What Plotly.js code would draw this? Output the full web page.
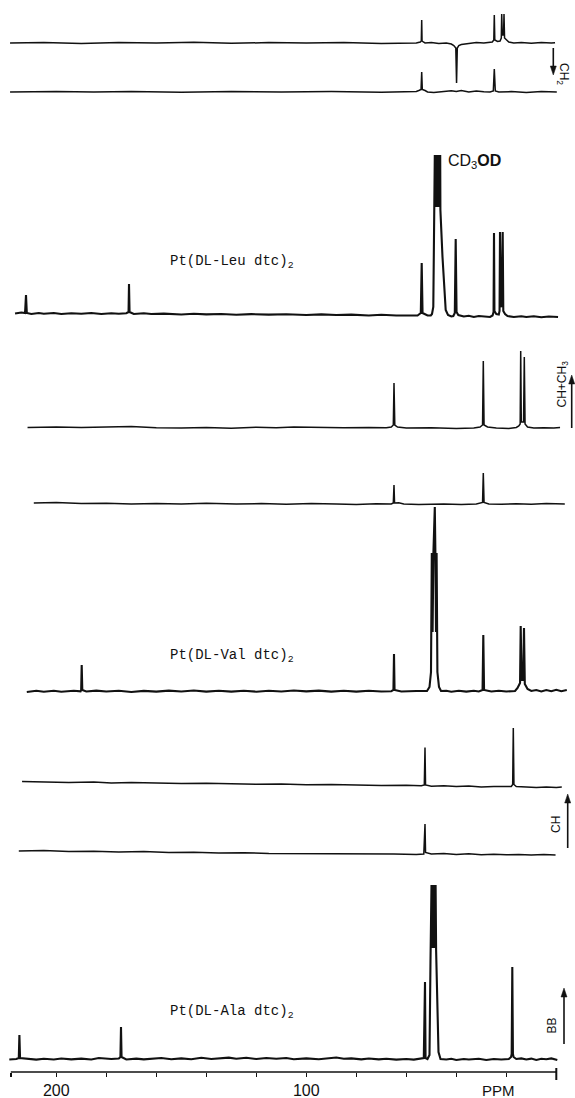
<!DOCTYPE html>
<html><head><meta charset="utf-8">
<script src="https://cdn.plot.ly/plotly-3.0.1.min.js"></script>
<style>html,body{margin:0;padding:0;background:#fff}#chart{width:575px;height:1098px}</style>
</head><body><div id="chart"></div>
<script>
// ---- DATA: spectrum traces as [ppm, intensity] vertices ----
// Pt(DL-Leu dtc)2, DEPT CH2 (top)
const leuDeptA = [[218.5,0],[205,0.5],[190,-0.5],[175,0.5],[160,0],[145,0.8],[130,-0.3],[115,0.4],[100,0],[85,0.6],[70,-0.4],[60,0.3],[56,0],[54.4,1],[54.0,2],[53.84,23],[53.7,2],[53.2,1],[52.5,0],[50,0.5],[47,-0.5],[44,0],[42,-1],[41,-2.5],[40.2,-5],[39.9,-40],[39.6,-5],[39,-2.5],[38,-1.5],[35,-0.5],[32,0.5],[29,0],[27,0.5],[25.6,1],[25.0,3],[24.8,28],[24.6,3],[23.5,1.5],[22.5,2],[22.0,5],[21.84,29],[21.6,8],[21.1,8],[20.92,29],[20.7,5],[20.0,3],[19,1],[17,0],[14,0.4],[10,-0.3],[6,0.4],[2,0],[0.5,0.3]];
// Pt(DL-Leu dtc)2, DEPT second trace
const leuDeptB = [[218.5,0],[200,0.5],[185,0],[170,0.6],[150,-0.3],[130,0.5],[110,0],[90,0.4],[70,-0.3],[60,0],[56,0.5],[55,1.5],[54.1,2.5],[53.84,20],[53.6,2.5],[52.5,1.5],[51.5,0],[49,-0.5],[45,0.5],[42,1.2],[40,0.5],[38,1.5],[35,0],[32,1],[29,0.3],[26.5,0],[25.2,1],[24.8,23],[24.4,1],[23,0],[18,0.4],[12,-0.4],[6,0.4],[-0.2,0]];
// Pt(DL-Leu dtc)2, broadband
const leuBB = [[216.5,3.5],[214,4.5],[212.5,4],[212.12,22],[211.8,4],[210,3],[207,4],[205,3.2],[201,4],[198,3],[194,3.8],[190,3.2],[186,4],[182,3],[178,3.8],[175,3.2],[172,3.8],[171.1,5],[170.92,33],[170.7,5],[169,3],[165,3.8],[162,3],[157,3.4],[150,2.5],[145,3.2],[140,2.6],[134,3],[128,2.2],[122,2.9],[115,2.4],[108,2.8],[100,2],[94,2.6],[88,2],[82,2.4],[75,1.5],[70,2.2],[64,1.5],[58,1.8],[55.5,1.5],[54.2,4],[53.84,54],[53.5,4],[51.5,1.5],[50.2,1.5],[49.72,3],[49.2,10],[48.75,105],[48.6,162],[48.32,110],[48.04,162],[47.76,110],[47.48,162],[47.2,110],[46.92,162],[46.64,110],[46.44,162],[46.36,107],[45.52,60],[44.24,7],[43.32,2],[42,0.5],[41.2,1],[40.6,4],[40.24,78],[39.9,5],[39.2,2],[37,0.5],[35,1.3],[33,0],[31,1],[29,0.3],[26.5,0],[25.5,1.5],[25.1,5],[24.92,84],[24.75,6],[24,3],[23,2.5],[22.7,6],[22.52,85],[22.2,12],[21.8,10],[21.44,85],[21.2,6],[20.5,3],[19.5,1],[17,0],[14,0.8],[12,0],[9,0.7],[6,-0.3],[3,0.5],[-0.7,0]];
// Pt(DL-Val dtc)2, DEPT CH+CH3
const valDeptA = [[211.5,0.5],[200,1],[190,0.5],[180,1.2],[170,1.5],[160,0.3],[150,0],[140,0.5],[130,-0.2],[120,0.8],[112,0.3],[105,1],[95,0.5],[85,0.2],[75,0.5],[68,0.3],[66,1],[65.2,3],[64.92,45],[64.6,3],[63.5,1],[60,0],[50,0.3],[40,-0.5],[33,0],[30.5,1],[29.5,3],[29.2,67],[28.9,3],[27.5,1],[24,0],[19,-0.5],[16,0.5],[15,2],[14.45,4],[14.24,77],[14.0,6],[13.1,6],[12.8,71],[12.5,4],[11.5,1],[9,0],[5,0.3],[1,0],[-1.5,0.6]];
// Pt(DL-Val dtc)2, DEPT second trace
const valDeptB = [[209,1],[200,1.5],[190,0.5],[180,0.8],[170,0],[160,0.6],[150,0],[140,0.8],[128,0],[118,0.4],[108,-0.3],[98,0.6],[88,0],[80,-0.4],[72,0.3],[66,0],[65.2,1],[64.92,19],[64.7,1],[63,1.2],[61,0],[55,-0.5],[45,0],[38,-0.5],[32,0],[29.5,1.5],[29.2,31],[28.9,1.5],[27,0],[22,-0.3],[16,0.3],[10,-0.3],[4,0.4],[-3.4,0]];
// Pt(DL-Val dtc)2, broadband
const valBB = [[211.8,0],[208,1.2],[205,0.3],[201,1.3],[198,0.3],[193,1.2],[190.3,0.6],[190.05,2],[189.84,27],[189.6,2],[188,0.5],[184,1.4],[180,0.5],[175,1.3],[170,0],[165,1.1],[160,0.4],[155,1.4],[150,0.5],[145,1.5],[140,0.4],[135,1.2],[130,0.4],[125,1.3],[120,0.3],[115,1.2],[110,0.5],[105,1.5],[100,0.6],[95,1.4],[90,0.4],[85,1.2],[80,0.4],[75,1.3],[70,0.5],[66,0.8],[65.15,2],[64.92,38],[64.7,2],[62,0.5],[56,1],[51.72,1],[50.72,5],[50.12,20],[49.8,139],[49.48,60],[49.16,139],[48.84,185],[48.6,185],[48.36,139],[48.12,60],[47.88,139],[47.56,20],[46.92,5],[46.12,1],[44,1.2],[42,0.3],[39,1.3],[36,0.4],[33,1.2],[31,0.5],[29.5,2],[29.2,57],[28.9,2],[26,0.5],[23,1.3],[20,0.5],[16.5,1],[15.5,4],[14.5,9],[14.24,66],[13.9,12],[13.3,12],[12.92,64],[12.6,8],[11.5,3],[10,1],[8,2],[6,0.6],[4,2],[2,0.8],[0,2.2],[-2,0.8],[-4.2,2]];
// Pt(DL-Ala dtc)2, DEPT first trace
const alaDeptA = [[213.7,5.5],[205,5],[195,4.5],[185,5],[178,4],[170,4.5],[160,4],[150,3.5],[140,3.8],[130,3],[120,2.8],[110,3],[100,2.2],[90,2.5],[80,2],[70,1.5],[60,1.8],[54,1.2],[52.8,2],[52.52,39.5],[52.3,2],[50,0.8],[45,1.2],[40,0.5],[35,1],[30,0],[25,0.5],[20,0.3],[18,0.5],[17.45,2.5],[17.2,59],[16.95,2.5],[16,0.5],[12,0],[8,-0.5],[4,0],[0,-0.5],[-2.2,0]];
// Pt(DL-Ala dtc)2, DEPT CH
const alaDeptB = [[215,4],[205,4.5],[195,3.5],[185,3.8],[175,3],[165,3.5],[155,2.5],[145,2.8],[135,2],[125,2.3],[115,1.5],[105,1.5],[95,1.2],[85,1],[75,0.8],[65,1],[56,0.6],[53,1],[52.52,31],[52.3,2.5],[50,1],[45,1.5],[40,0.5],[35,1.2],[30,0.3],[25,0.8],[20,0.2],[15,0.6],[10,0],[5,0.5],[0.3,0]];
// Pt(DL-Ala dtc)2, broadband
const alaBB = [[218.8,0.5],[216,1],[215.0,2],[214.76,25],[214.5,2],[212,1.5],[208,0.4],[205,1.3],[201,0.5],[198,1.5],[194,0.6],[190,1.4],[186,0.5],[183,2],[178,1],[175,1.5],[174.35,3],[174.12,33],[173.9,3],[172,0.5],[168,1.4],[165,0.6],[161,1.5],[158,2],[154,0.8],[150,1.6],[146,0.7],[142,2.2],[138,1],[135,1.5],[131,2.4],[128,1.2],[124,2.2],[120,1],[116,2],[112,1.2],[108,2],[105,0.8],[100,1.6],[95,0.8],[91,1.8],[88,2.5],[85,1.2],[82,1.6],[78,0.6],[75,1.5],[71,0.6],[68,1.2],[64,0.4],[60,1],[57,0.4],[55,1],[53.0,2],[52.52,78],[52.3,2],[51.52,1],[50.72,5],[50.32,100],[49.92,175],[49.64,112],[49.36,175],[49.08,112],[48.8,175],[48.52,112],[48.28,175],[48.08,110],[47.6,40],[47.12,8],[46.32,1],[44,0.5],[42,1.3],[40,0],[37,1],[35,0.5],[31,1.2],[28,0],[25,1],[22,0.5],[19,1],[18.1,3],[17.85,6],[17.6,93],[17.35,6],[17.1,3],[16,1],[14,1.6],[12,0.5],[10,1.4],[8,0],[6,1.2],[4,0.8],[2,1.6],[-0.4,0]];

// axis tick values / labels
const majorTicks = [200, 100];
const majorText = ['200', '100'];
const minorTicks = [218.2, 180, 160, 140, 120, 80, 60, 40, 20, 0];

// compound labels and experiment labels
const compoundLabels = ['Pt(DL-Leu dtc)<sub>2</sub>','Pt(DL-Val dtc)<sub>2</sub>','Pt(DL-Ala dtc)<sub>2</sub>'];
const expLabels = ['CH<sub>2</sub>','CH+CH<sub>3</sub>','CH','BB'];

// ---- LAYOUT / STYLE ----
const W = 575, H = 1098, B = 26, PH = H - B; // plot area height
const py = p => (PH - p) / PH; // pixel row -> paper fraction
const px = p => p / W;         // pixel column -> paper fraction

const panels = [
  {d: leuDeptA, base: 43,   up: 43,  down: 45, w: 1.5},
  {d: leuDeptB, base: 92,   up: 40,  down: 10, w: 1.5},
  {d: leuBB,    base: 317,  up: 170, down: 10, w: 2.1},
  {d: valDeptA, base: 428,  up: 90,  down: 10, w: 1.5},
  {d: valDeptB, base: 504,  up: 40,  down: 10, w: 1.5},
  {d: valBB,    base: 692,  up: 195, down: 10, w: 2.1},
  {d: alaDeptA, base: 787,  up: 70,  down: 10, w: 1.5},
  {d: alaDeptB, base: 855,  up: 40,  down: 10, w: 1.5},
  {d: alaBB,    base: 1060, up: 185, down: 10, w: 2.1}
];

const tickStyle = {ticks: 'outside', ticklen: 4, tickwidth: 1.5, tickcolor: '#111'};
const traces = [];
const layout = {
  width: W, height: H,
  margin: {l: 0, r: 0, t: 0, b: B},
  paper_bgcolor: '#fff', plot_bgcolor: 'rgba(0,0,0,0)',
  showlegend: false,
  xaxis: Object.assign({
    range: [222.52, -7.48], anchor: 'free', position: 0,
    showline: false, showgrid: false, zeroline: false,
    tickmode: 'array', tickvals: majorTicks, ticktext: majorText,
    tickfont: {family: 'Liberation Sans, Arial, sans-serif', size: 16, color: '#111'},
    minor: Object.assign({tickmode: 'array', tickvals: minorTicks, showgrid: false}, tickStyle),
    fixedrange: true
  }, tickStyle),
  shapes: [
    {type: 'line', xref: 'x', yref: 'paper', x0: 218.2, x1: 0, y0: 0, y1: 0, line: {color: '#111', width: 1.6}},
    {type: 'line', xref: 'x', yref: 'paper', x0: 0, x1: 0, y0: 4 / PH, y1: -8 / PH, line: {color: '#111', width: 2}}
  ],
  annotations: []
};

panels.forEach((p, i) => {
  const key = i === 0 ? 'y' : 'y' + (i + 1);
  const lkey = i === 0 ? 'yaxis' : 'yaxis' + (i + 1);
  const lo = Math.max(0, py(p.base + p.down));
  const hi = Math.min(1, py(p.base - p.up));
  layout[lkey] = {domain: [lo, hi], range: [-p.down, p.up], visible: false, fixedrange: true, anchor: 'x'};
  traces.push({
    type: 'scatter', mode: 'lines', xaxis: 'x', yaxis: key,
    x: p.d.map(v => v[0]), y: p.d.map(v => v[1]),
    line: {color: '#111', width: p.w}, hoverinfo: 'skip'
  });
});

// arrows beside the experiment labels (shaft + filled head, as shapes)
const addArrow = (X, headY, tailY) => {
  const dir = tailY > headY ? 1 : -1; // 1 = points up
  const baseY = headY + dir * 9;
  layout.shapes.push({type: 'line', xref: 'paper', yref: 'paper', x0: px(X), x1: px(X), y0: py(tailY), y1: py(baseY),
    line: {color: '#111', width: 1.6}});
  layout.shapes.push({type: 'path', xref: 'paper', yref: 'paper',
    path: `M ${px(X)} ${py(headY)} L ${px(X - 3)} ${py(baseY)} L ${px(X + 3)} ${py(baseY)} Z`,
    fillcolor: '#111', line: {color: '#111', width: 0.5}});
};
addArrow(553.3, 75, 48);
addArrow(571.7, 375, 428);
addArrow(567.7, 794, 848);
addArrow(564, 988, 1044);

const ann = layout.annotations;
const sans = 'Liberation Sans, Arial, sans-serif';
// PPM axis label
ann.push({xref: 'x', yref: 'paper', x: 23, y: py(1090), xanchor: 'center', yanchor: 'middle', text: 'PPM', showarrow: false,
  font: {family: sans, size: 15, color: '#111'}});
// CD3OD
ann.push({xref: 'paper', yref: 'paper', x: px(446), y: py(161), xanchor: 'left', yanchor: 'middle',
  text: 'CD<sub>3</sub><b>OD</b>', showarrow: false,
  font: {family: sans, size: 16, color: '#111'}});
// compound labels
[[262, 0], [656, 1], [1012, 2]].forEach(([yy, k]) => {
  ann.push({xref: 'paper', yref: 'paper', x: px(168), y: py(yy), xanchor: 'left', yanchor: 'middle',
    text: compoundLabels[k], showarrow: false,
    font: {family: 'Liberation Mono, Courier New, monospace', size: 14, color: '#111'}});
});
// experiment labels (rotated)
const expFont = {family: sans, size: 12, color: '#111'};
const expLab = (xp, yp, k, ang) => ({xref: 'paper', yref: 'paper', x: px(xp), y: py(yp), xanchor: 'center', yanchor: 'middle',
  text: expLabels[k], textangle: ang, showarrow: false, font: expFont});
ann.push(expLab(563, 74, 0, 90));
ann.push(expLab(562.5, 384, 1, -90));
ann.push(expLab(556, 825, 2, -90));
ann.push(expLab(551.5, 1026, 3, -90));

Plotly.newPlot('chart', traces, layout, {staticPlot: true, displayModeBar: false});
</script>
</body></html>
